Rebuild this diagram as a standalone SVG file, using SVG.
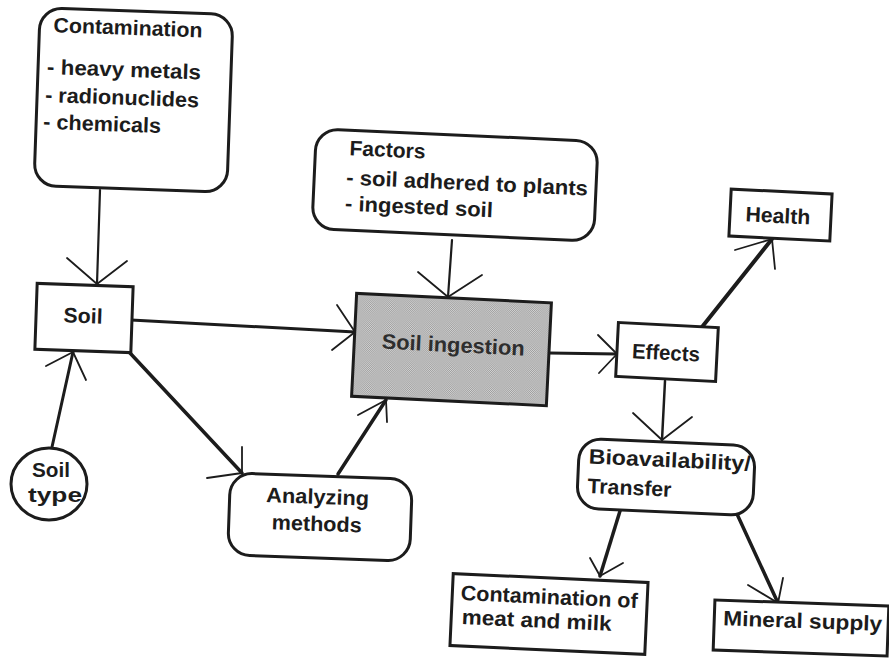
<svg xmlns="http://www.w3.org/2000/svg" width="889" height="663" viewBox="0 0 889 663">
  <style>
    .box { fill: #ffffff; stroke: #1c1c1c; stroke-width: 3; }
    .hot { fill: url(#halftone); stroke: #1c1c1c; stroke-width: 3; }
    .t { font-family: "Liberation Sans", Arial, sans-serif; font-weight: bold; font-size: 21px; fill: #1c1c1c; }
    .tg { fill: #2e2e2e; }
    .m { text-anchor: middle; }
    .ln { fill: none; stroke: #1c1c1c; stroke-linecap: round; }
    .head { fill: none; stroke: #1c1c1c; stroke-width: 1.8; stroke-linecap: round; stroke-linejoin: round; }
  </style>
  <defs>
    <pattern id="halftone" patternUnits="userSpaceOnUse" width="2" height="2">
      <rect width="2" height="2" fill="#d6d6d6"/>
      <rect x="0" y="0" width="1" height="1" fill="#9a9a9a"/>
      <rect x="1" y="1" width="1" height="1" fill="#9a9a9a"/>
    </pattern>
  </defs>
  <rect width="889" height="663" fill="#ffffff"/>

  <g id="connectors">
    <path class="ln" stroke-width="2.2" d="M100,190 L97,284"/>
    <path class="head" d="M67,258 L97,284 L127,261"/>

    <path class="ln" stroke-width="3" d="M131,320 L355,332"/>
    <path class="head" d="M337,305 L355,332 L332,350"/>

    <path class="ln" stroke-width="2.2" d="M452,240 L448,297"/>
    <path class="head" d="M418,272 L448,297 L482,275"/>

    <path class="ln" stroke-width="3" d="M549,353 L617,354"/>
    <path class="head" d="M598,335 L617,354 L599,373"/>

    <path class="ln" stroke-width="4" d="M702,327 L772,239"/>
    <path class="head" d="M735,250 L772,239 L775,269"/>

    <path class="ln" stroke-width="2.5" d="M665,381 L662,440"/>
    <path class="head" d="M633,413 L662,440 L692,417"/>

    <path class="ln" stroke-width="3.5" d="M620,511 L600,576"/>
    <path class="head" d="M590,558 L600,576 L623,563"/>

    <path class="ln" stroke-width="3.5" d="M737,514 L778,603"/>
    <path class="head" d="M748,585 L778,603 L783,578"/>

    <path class="ln" stroke-width="3" d="M52,447 L73,352"/>
    <path class="head" d="M46,366 L73,352 L86,380"/>

    <path class="ln" stroke-width="3.5" d="M130,353 L242,473"/>
    <path class="head" d="M242,447 L242,473 L207,478"/>

    <path class="ln" stroke-width="3.5" d="M338,474 L386,400"/>
    <path class="head" d="M358,415 L386,400 L387,422"/>
  </g>

  <g id="contamination" transform="rotate(2 133 100)">
    <rect class="box" x="37" y="11" width="193" height="178" rx="22"/>
    <text class="t" x="51" y="35" textLength="149" lengthAdjust="spacingAndGlyphs">Contamination</text>
    <text class="t" x="46" y="77" textLength="154" lengthAdjust="spacingAndGlyphs">- heavy metals</text>
    <text class="t" x="45" y="105" textLength="154" lengthAdjust="spacingAndGlyphs">- radionuclides</text>
    <text class="t" x="44" y="132" textLength="118" lengthAdjust="spacingAndGlyphs">- chemicals</text>
  </g>

  <g id="soil" transform="rotate(2 84 318)">
    <rect class="box" x="36" y="285" width="96" height="66"/>
    <text class="t m" x="83" y="323" textLength="39" lengthAdjust="spacingAndGlyphs">Soil</text>
  </g>

  <g id="factors" transform="rotate(2.6 455 185)">
    <rect class="box" x="314" y="135" width="282" height="100" rx="22"/>
    <text class="t" x="348" y="160" textLength="76" lengthAdjust="spacingAndGlyphs">Factors</text>
    <text class="t" x="346" y="189.5" textLength="242" lengthAdjust="spacingAndGlyphs">- soil adhered to plants</text>
    <text class="t" x="346" y="215.5" textLength="148" lengthAdjust="spacingAndGlyphs">- ingested soil</text>
  </g>

  <g id="soil-ingestion" transform="rotate(2.8 451 349.5)">
    <rect class="hot" x="354" y="298" width="195" height="103"/>
    <text class="t tg m" x="453" y="352" textLength="143" lengthAdjust="spacingAndGlyphs">Soil ingestion</text>
  </g>

  <g id="effects" transform="rotate(2.9 667 352)">
    <rect class="box" x="617" y="325" width="100" height="54"/>
    <text class="t m" x="666" y="360" textLength="68" lengthAdjust="spacingAndGlyphs">Effects</text>
  </g>

  <g id="health" transform="rotate(2.8 780 215)">
    <rect class="box" x="730" y="191.5" width="101" height="47"/>
    <text class="t m" x="778" y="223" textLength="65" lengthAdjust="spacingAndGlyphs">Health</text>
  </g>

  <g id="bioavailability" transform="rotate(2.5 666 477)">
    <rect class="box" x="578" y="442" width="176" height="70" rx="22"/>
    <text class="t" x="588" y="467" textLength="162" lengthAdjust="spacingAndGlyphs">Bioavailability/</text>
    <text class="t" x="588" y="496.5" textLength="84" lengthAdjust="spacingAndGlyphs">Transfer</text>
  </g>

  <g id="contamination-meat-milk" transform="rotate(2.6 549 614)">
    <rect class="box" x="451.5" y="578" width="195" height="72"/>
    <text class="t" x="460" y="604" textLength="177" lengthAdjust="spacingAndGlyphs">Contamination of</text>
    <text class="t" x="462" y="628" textLength="150" lengthAdjust="spacingAndGlyphs">meat and milk</text>
  </g>

  <g id="mineral-supply" transform="rotate(2 801 628)">
    <rect class="box" x="714" y="603" width="174" height="50"/>
    <text class="t" x="723" y="628" textLength="159" lengthAdjust="spacingAndGlyphs">Mineral supply</text>
  </g>

  <g id="analyzing-methods" transform="rotate(2 320 517)">
    <rect class="box" x="229" y="476" width="182" height="82" rx="22"/>
    <text class="t m" x="317" y="504" textLength="103" lengthAdjust="spacingAndGlyphs">Analyzing</text>
    <text class="t m" x="317" y="531" textLength="90" lengthAdjust="spacingAndGlyphs">methods</text>
  </g>

  <g id="soil-type">
    <ellipse class="box" cx="49" cy="484" rx="38" ry="36"/>
    <text class="t m" x="51" y="477" textLength="38" lengthAdjust="spacingAndGlyphs">Soil</text>
    <text class="t m" x="55" y="502" textLength="54" lengthAdjust="spacingAndGlyphs">type</text>
  </g>
</svg>
